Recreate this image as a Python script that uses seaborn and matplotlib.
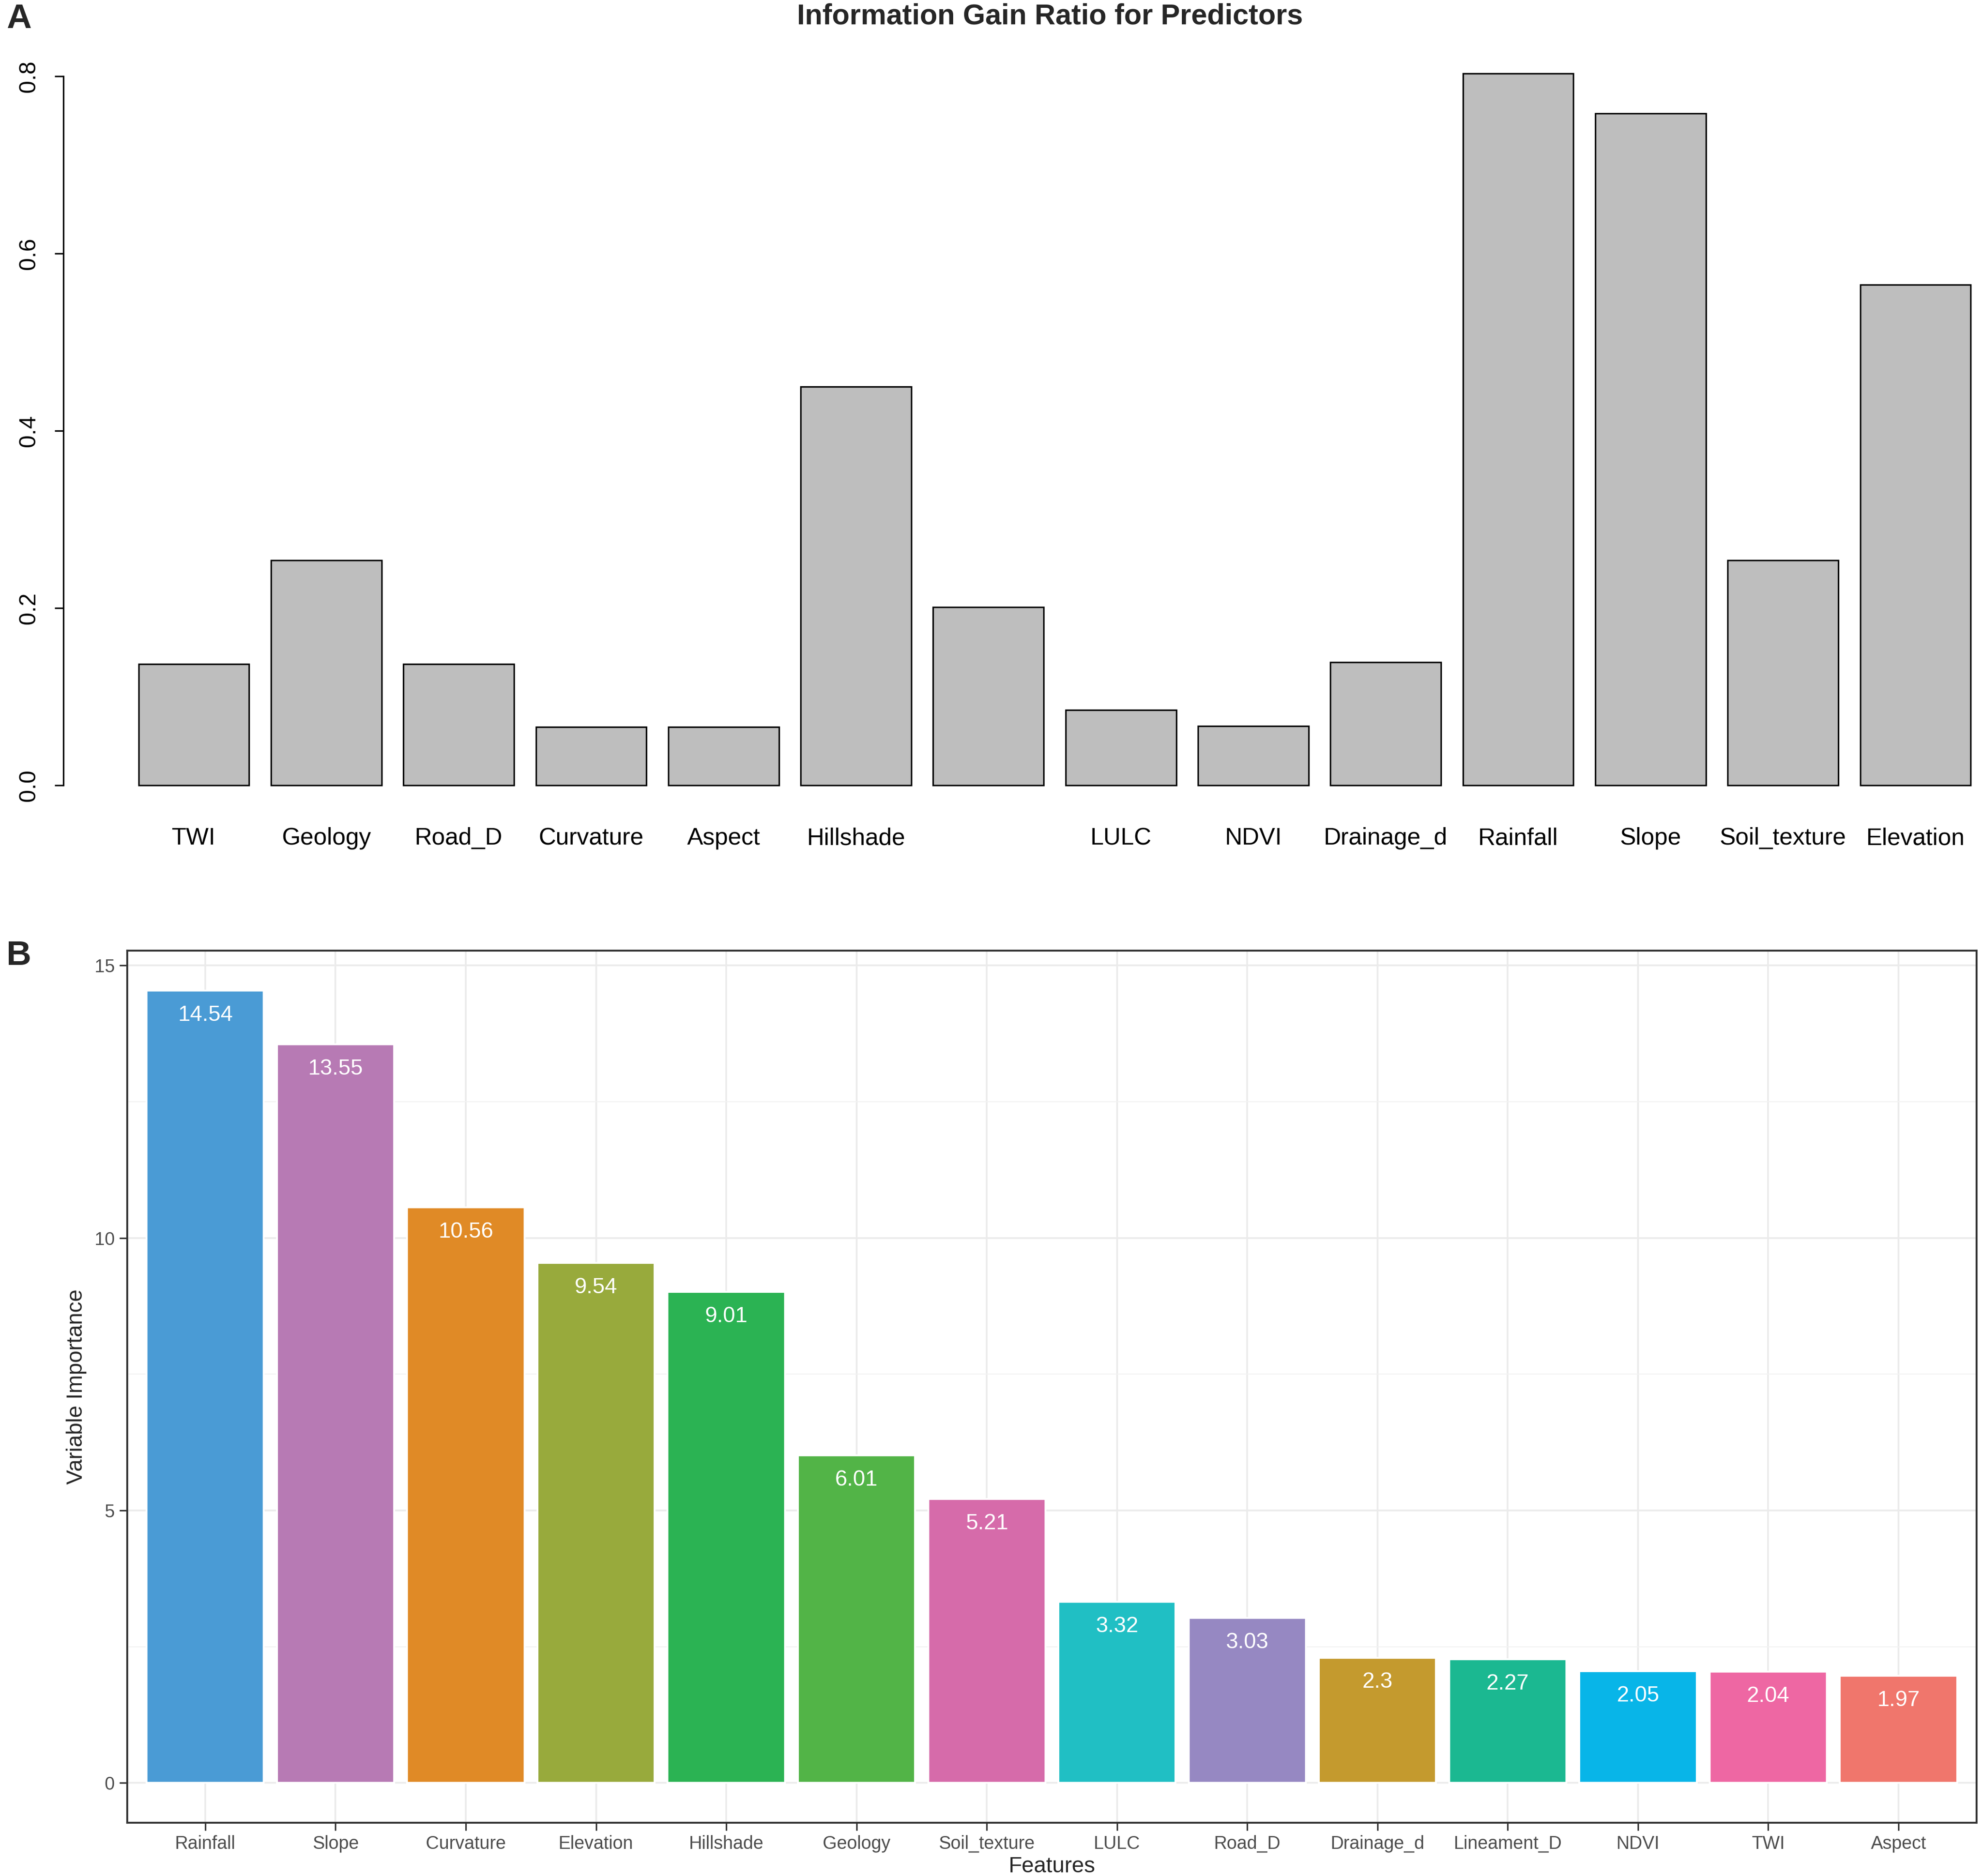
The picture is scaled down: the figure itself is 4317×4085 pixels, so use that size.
import matplotlib
matplotlib.use('Agg')
import matplotlib.pyplot as plt
from matplotlib.ticker import MultipleLocator, FixedLocator
import seaborn as sns

# Panel A: information gain ratio (R barplot order)
igr_features = ['TWI', 'Geology', 'Road_D', 'Curvature', 'Aspect', 'Hillshade', 'Lineament_D',
                'LULC', 'NDVI', 'Drainage_d', 'Rainfall', 'Slope', 'Soil_texture', 'Elevation']
igr_values = [0.137, 0.254, 0.137, 0.066, 0.066, 0.450, 0.201,
              0.085, 0.067, 0.139, 0.803, 0.758, 0.254, 0.565]
# R dropped the overlapping Lineament_D label
igr_tick_labels = ['TWI', 'Geology', 'Road_D', 'Curvature', 'Aspect', 'Hillshade', '',
                   'LULC', 'NDVI', 'Drainage_d', 'Rainfall', 'Slope', 'Soil_texture', 'Elevation']
igr_yticks = [0.0, 0.2, 0.4, 0.6, 0.8]
igr_ytick_labels = ['0.0', '0.2', '0.4', '0.6', '0.8']

# Panel B: variable importance
vi_features = ['Rainfall', 'Slope', 'Curvature', 'Elevation', 'Hillshade', 'Geology', 'Soil_texture',
               'LULC', 'Road_D', 'Drainage_d', 'Lineament_D', 'NDVI', 'TWI', 'Aspect']
vi_values = [14.54, 13.55, 10.56, 9.54, 9.01, 6.01, 5.21, 3.32, 3.03, 2.3, 2.27, 2.05, 2.04, 1.97]
vi_labels = ['14.54', '13.55', '10.56', '9.54', '9.01', '6.01', '5.21',
             '3.32', '3.03', '2.3', '2.27', '2.05', '2.04', '1.97']
vi_colors = ['#4A9BD5', '#B77AB4', '#E08A26', '#98AA3C', '#2BB353', '#52B447', '#D66BAA',
             '#20BFC4', '#9688C2', '#C49A2E', '#1BB891', '#08B5E8', '#EE67A3', '#F0766C']
vi_yticks = [0, 5, 10, 15]

sns.set_style('white')
plt.rcParams['font.family'] = ['Liberation Sans', 'DejaVu Sans']

W, H = 1560.0, 1476.0
fig = plt.figure(figsize=(4317 / 300, 4085 / 300), dpi=300)
fig.patch.set_facecolor('white')

# ---- Panel A ----
axA = fig.add_axes([50 / W, 1 - 640.3 / H, 1510 / W, 604.7 / H])
sns.barplot(x=igr_features, y=igr_values, color='#BEBEBE', saturation=1,
            edgecolor='black', linewidth=0.8, width=0.835, ax=axA)
axA.set_xlim(-0.984, 13.51)
axA.set_ylim(-0.032, 0.835)
axA.set_facecolor('white')
for s in ['top', 'right', 'bottom']:
    axA.spines[s].set_visible(False)
axA.spines['left'].set_bounds(0, 0.8)
axA.spines['left'].set_color('black')
axA.spines['left'].set_linewidth(0.8)
axA.xaxis.set_major_locator(FixedLocator(range(len(igr_features))))
axA.set_xticklabels(igr_tick_labels, fontsize=12.5)
axA.tick_params(axis='x', length=0, pad=7, colors='black')
axA.set_yticks(igr_yticks)
axA.set_yticklabels(igr_ytick_labels, rotation=90, va='center', fontsize=12)
axA.tick_params(axis='y', length=4.6, width=0.8, pad=8, colors='black', left=True)
axA.set_xlabel('')
axA.set_ylabel('')
axA.grid(False)
fig.text(826 / W, 1 - 13 / H, 'Information Gain Ratio for Predictors',
         ha='center', va='center', fontsize=15, fontweight='bold')

# ---- Panel B ----
axB = fig.add_axes([100 / W, 1 - 1434 / H, 1455 / W, 686 / H])
sns.barplot(x=vi_features, y=vi_values, hue=vi_features, palette=vi_colors,
            order=vi_features, hue_order=vi_features, legend=False,
            saturation=1, width=0.9, ax=axB)
axB.set_xlim(-0.6, 13.6)
axB.set_ylim(-0.727, 15.27)
axB.set_facecolor('white')
axB.set_axisbelow(True)
axB.yaxis.set_major_locator(FixedLocator(vi_yticks))
axB.yaxis.set_minor_locator(MultipleLocator(2.5))
axB.grid(True, axis='y', which='major', color='#EBEBEB', linewidth=0.9)
axB.grid(True, axis='y', which='minor', color='#F2F2F2', linewidth=0.5)
axB.grid(True, axis='x', which='major', color='#EBEBEB', linewidth=0.9)
for s in axB.spines.values():
    s.set_visible(True)
    s.set_color('#333333')
    s.set_linewidth(1.0)
axB.tick_params(axis='both', which='major', length=4, width=0.8, color='#333333',
                labelcolor='#4D4D4D', labelsize=9.5, pad=2.5, bottom=True, left=True)
axB.tick_params(axis='y', which='minor', length=0)
axB.set_xlabel('Features', fontsize=11.5, labelpad=2)
axB.set_ylabel('Variable Importance', fontsize=11.5, labelpad=4)

for i, (v, lab) in enumerate(zip(vi_values, vi_labels)):
    axB.text(i, v - 0.45, lab, ha='center', va='center', color='white', fontsize=11.5)

fig.text(5 / W, 1 - 15 / H, 'A', ha='left', va='center', fontsize=18, fontweight='bold')
fig.text(5 / W, 1 - 752 / H, 'B', ha='left', va='center', fontsize=18, fontweight='bold')

fig.savefig('out.png', dpi=300)
